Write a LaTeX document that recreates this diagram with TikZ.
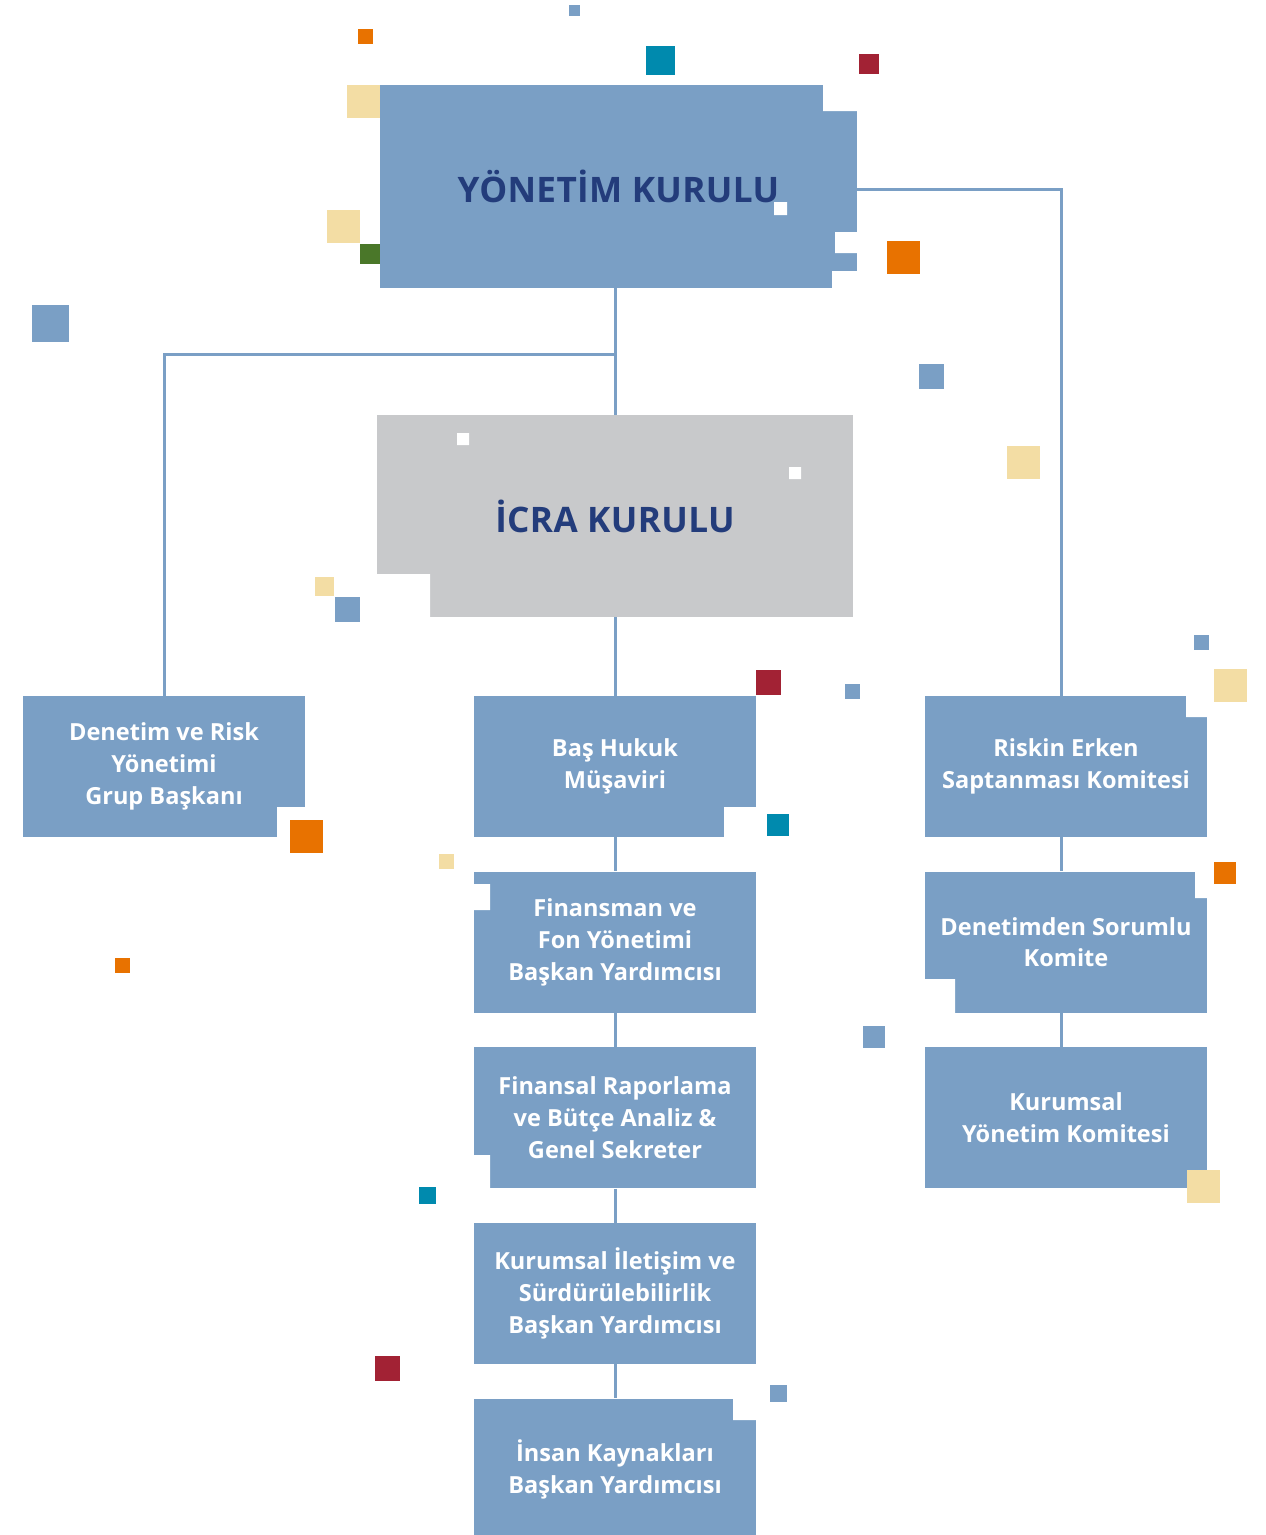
\documentclass[tikz,border=0pt]{standalone}
\usepackage{fontspec}
\setmainfont{Open Sans}
\usetikzlibrary{positioning}
\definecolor{boxblue}{HTML}{7A9FC5}
\definecolor{boxgrey}{HTML}{C8C9CB}
\definecolor{titleblue}{HTML}{233C7B}
\definecolor{sqorange}{HTML}{E87200}
\definecolor{sqbeige}{HTML}{F3DDA4}
\definecolor{sqteal}{HTML}{008AAE}
\definecolor{sqred}{HTML}{A22234}
\definecolor{sqgreen}{HTML}{4A7729}
\newfontfamily\titlefont[LetterSpace=1]{Open Sans}

\begin{document}
\begin{tikzpicture}[x=0.02cm, y=-0.02cm,
    box/.style = {rectangle, fill=boxblue, text=white, align=center,
      inner sep=0pt, minimum width=5.64cm, minimum height=2.82cm,
      font=\fontsize{13.4}{18.2}\selectfont\bfseries},
    board/.style = {rectangle, inner sep=0pt, text=titleblue,
      font=\fontsize{20}{24}\selectfont\titlefont\bfseries},
    link/.style = {draw=boxblue, line width=0.06cm}]
  \useasboundingbox (0,0) rectangle (1266,1535);
  % boards
  \node[board, fill=boxblue, minimum width=9.54cm, minimum height=4.06cm]
    (yk) at (618.5,186.5) {YÖNETİM KURULU};
  \node[board, fill=boxgrey, minimum width=9.54cm, minimum height=4.04cm]
    (icra) at (615,516) {İCRA KURULU};
  % left and middle column
  \node[box] (denetim) at (164,766.5) {Denetim ve Risk\\Yönetimi\\Grup Başkanı};
  \node[box] (hukuk) at (615,766.5) {Baş Hukuk\\Müşaviri};
  \node[box, below=0.68cm of hukuk] (finansman) {Finansman ve\\Fon Yönetimi\\Başkan Yardımcısı};
  \node[box, below=0.68cm of finansman] (raporlama) {Finansal Raporlama\\ve Bütçe Analiz \&\\Genel Sekreter};
  \node[box, below=0.68cm of raporlama] (iletisim) {Kurumsal İletişim ve\\Sürdürülebilirlik\\Başkan Yardımcısı};
  \node[box, below=0.68cm of iletisim] (insan) {İnsan Kaynakları\\Başkan Yardımcısı};
  % right column
  \node[box] (riskin) at (1066,766.5) {Riskin Erken\\Saptanması Komitesi};
  \node[box, below=0.68cm of riskin] (komite) {Denetimden Sorumlu\\Komite};
  \node[box, below=0.68cm of komite] (kurumsal) {Kurumsal\\Yönetim Komitesi};
  % notches
  \fill[white] (823,84) rectangle (858,111) (835,232) rectangle (858,253)
    (832,271) rectangle (858,289) (375,574) rectangle (430,618)
    (277,807) rectangle (306,838) (724,807) rectangle (757,838)
    (473,884) rectangle (490,910) (473,1155) rectangle (490,1188)
    (733,1395) rectangle (757,1420) (1186,695) rectangle (1208,717)
    (1195,870) rectangle (1208,898) (924,979) rectangle (955,1013)
    (774,202) rectangle ++(13,13) (457,433) rectangle ++(12,12)
    (789,467) rectangle ++(12,12);
  % connectors
  \coordinate (split) at (615,354);
  \draw[link] (icra.north) -- (icra.north |- yk.south);
  \draw[link] (split) -| (denetim.north);
  \draw[link] (yk.east |- 0,189) -| ([xshift=-0.1cm]riskin.north);
  \draw[link] (icra) -- (hukuk);
  \draw[link] (hukuk) -- (finansman);
  \draw[link] (finansman) -- (raporlama);
  \draw[link] (raporlama) -- (iletisim);
  \draw[link] (iletisim) -- (insan);
  \draw[link] ([xshift=-0.1cm]riskin.south) -- ([xshift=-0.1cm]komite.north);
  \draw[link] ([xshift=-0.1cm]komite.south) -- ([xshift=-0.1cm]kurumsal.north);
  % squares
  \foreach \x/\y/\s in {358/29/15, 887/241/33, 290/820/33, 1214/862/22, 115/958/15}
    \fill[sqorange] (\x,\y) rectangle ++(\s,\s);
  \foreach \x/\y/\s in {347/85/33, 327/210/33, 1007/446/33, 315/577/19,
      1214/669/33, 439/854/15, 1187/1170/33}
    \fill[sqbeige] (\x,\y) rectangle ++(\s,\s);
  \foreach \x/\y/\s in {569/5/11, 32/305/37, 919/364/25, 335/597/25,
      1194/635/15, 845/684/15, 863/1026/22, 770/1385/17}
    \fill[boxblue] (\x,\y) rectangle ++(\s,\s);
  \foreach \x/\y/\s in {646/46/29, 767/814/22, 419/1187/17}
    \fill[sqteal] (\x,\y) rectangle ++(\s,\s);
  \foreach \x/\y/\s in {859/54/20, 756/670/25, 375/1356/25}
    \fill[sqred] (\x,\y) rectangle ++(\s,\s);
  \fill[sqgreen] (360,244) rectangle ++(20,20);
\end{tikzpicture}
\end{document}
